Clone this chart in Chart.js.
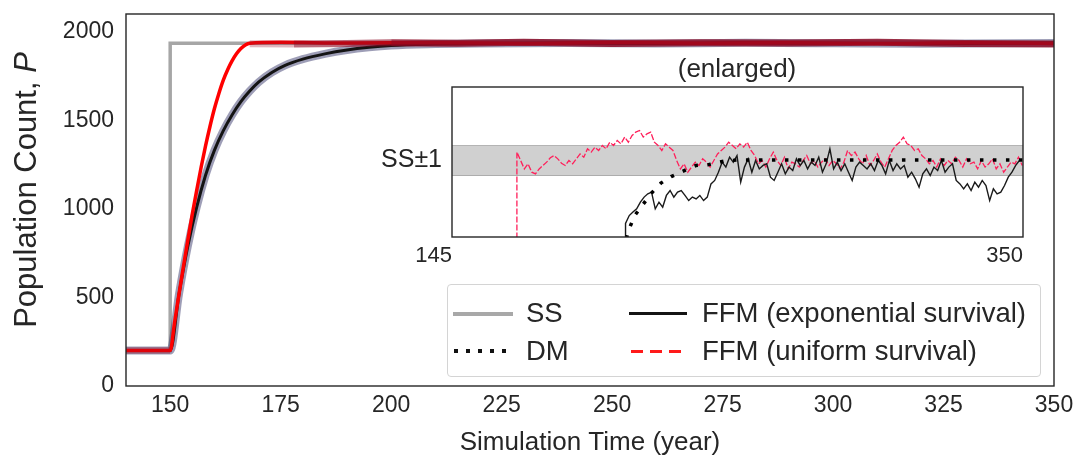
<!DOCTYPE html>
<html>
<head>
<meta charset="utf-8">
<script src="https://cdn.jsdelivr.net/npm/chart.js@4.4.0/dist/chart.umd.min.js"></script>
<style>
  html, body { margin: 0; padding: 0; background: #fff; overflow: hidden; }
  body { width: 1080px; height: 461px; position: relative; font-family: "Liberation Sans", Arial, sans-serif; color: #262626; }
  #main { position: absolute; left: 0; top: 0; }
  #inset { position: absolute; left: 360px; top: 80px; }
  #enlarged { position: absolute; left: 637px; top: 53px; width: 200px; text-align: center; font-size: 26px; line-height: 30px; }
  #legend { position: absolute; left: 447px; top: 284px; width: 592px; height: 91px; border: 1px solid #d4d4d4; border-radius: 4px; background: rgba(255,255,255,0.9); }
  #legend .sw { position: absolute; }
  #legend .lb { position: absolute; font-size: 27.5px; line-height: 30px; white-space: nowrap; }
</style>
</head>
<body>
<canvas id="main" width="1080" height="461"></canvas>
<canvas id="inset" width="680" height="200"></canvas>
<div id="enlarged">(enlarged)</div>
<div id="legend">
  <div class="sw" style="left:5px;top:27px;width:60px;height:4px;background:#a8a8a8"></div>
  <div class="lb" style="left:78px;top:13px">SS</div>
  <div class="sw" style="left:181px;top:27px;width:58px;height:3px;background:#141414"></div>
  <div class="lb" style="left:254px;top:13px">FFM (exponential survival)</div>
  <div class="sw" style="left:6px;top:64px;width:52px;height:4px;background:repeating-linear-gradient(to right,#111 0 4px,transparent 4px 12px)"></div>
  <div class="lb" style="left:78px;top:51px">DM</div>
  <div class="sw" style="left:183px;top:65px;width:52px;height:3px;background:repeating-linear-gradient(to right,#ff1a1a 0 12px,transparent 12px 19px)"></div>
  <div class="lb" style="left:254px;top:51px">FFM (uniform survival)</div>
</div>
<script>
// axis ticks
const xTicks = [150, 175, 200, 225, 250, 275, 300, 325, 350];
const yTicks = [0, 500, 1000, 1500, 2000];

// steady state
const ssYears = [140, 150, 150, 350];
const ssValues = [200, 200, 1935, 1935];

// FFM uniform survival (red)
const uniYears = [140, 150, 151, 152, 153, 154, 155, 156, 157, 158, 159, 160, 161, 162, 163, 164, 165, 166, 167, 168, 175, 190, 210, 230, 250, 270, 290, 310, 330, 350];
const uniValues = [200, 200, 360, 520, 675, 825, 970, 1105, 1235, 1355, 1465, 1565, 1650, 1725, 1785, 1835, 1875, 1905, 1925, 1935, 1940, 1936, 1938, 1934, 1939, 1935, 1937, 1933, 1938, 1934];

// FFM exponential survival (black)
const expYears = [140, 150, 152, 154, 156, 158, 160, 162, 164, 166, 168, 170, 173, 176, 180, 185, 190, 195, 200, 210, 220, 240, 260, 280, 300, 320, 350];
const expValues = [200, 200, 520, 790, 1010, 1190, 1330, 1440, 1530, 1605, 1665, 1715, 1770, 1810, 1845, 1875, 1897, 1912, 1922, 1930, 1934, 1936, 1933, 1937, 1935, 1932, 1936];

// overlapping runs (dark red band)
const runYears = [140, 150, 150, 168, 178, 190, 200, 215, 230, 250, 270, 290, 310, 330, 350];
const runValues = [200, 200, null, 1932, 1930, 1934, 1937, 1935, 1940, 1933, 1938, 1936, 1940, 1934, 1931];

// inset, deviation from SS
const insetStep = 1.334;
const redInStart = 168.3;
const redInValues = [-5.2, 0.56, 0, -0.56, -0.22, -0.78, -0.89, -0.56, -0.33, -0.11, 0.18, 0.33, 0.11, -0.18, -0.33, 0, -0.22, 0.11, 0.44, 0.22, 0.78,
  0.56, 0.89, 0.67, 1.0, 0.78, 1.22, 1.0, 1.33, 1.11, 1.56, 1.22, 1.67, 1.89, 2.0, 1.56, 1.78, 1.89, 1.22, 1.0, 0.67,
  1.11, 0.89, 0.67, 0, -0.56, -0.22, -0.78, -0.44, -0.11, -0.33, 0.11, -0.11, -0.44, 0, 0.44, 0.67, 0.89, 1.22, 1.0, 0.78,
  1.11, 0.89, 1.22, 0.67, 0.33, -0.22, 0, -0.44, 0.11, 0.56, 0, -0.33, 0.22, -0.56, -0.11, -0.22, -0.44, 0, 0.33, -0.22,
  0, -0.44, -0.11, 0.11, -0.33, 0, -0.22, -0.56, -0.11, 0.67, 0.33, 0.56, 0.11, -0.22, 0.33, -0.33, 0, 0.44, -0.11, -0.44,
  0.11, 0.67, 1.0, 1.22, 1.56, 1.11, 1.0, 0.67, 0.78, 0.33, 0.11, -0.22, 0, -0.44, 0.11, -0.33, 0, -0.22, 0.22, 0,
  -0.44, 0.11, -0.22, -0.11, -0.56, 0, -0.44, -0.22, 0.11, -0.56, -0.22, -0.78, -0.44, -0.11, -0.22, 0.22, -0.33];
const expInStart = 207.3;
const expInValues = [-5.2, -4.2, -3.67, -3.44, -3.22, -2.78, -2.44, -2.22, -2.11, -3.22, -2.78, -3.11, -2.33, -2.0, -2.44, -2.11, -2.0, -2.33, -2.67, -2.44,
  -2.56, -2.33, -2.67, -2.44, -1.56, -1.33, -0.78, -0.11, -0.44, 0.22, -0.11, 0.33, -1.44, -0.44, 0.11, -0.78, 0, -0.56, -0.33, -0.22,
  -1.11, -1.33, -0.78, -0.22, -0.89, -0.44, -0.67, 0.11, -0.33, 0, -0.56, -0.11, -0.33, 0.22, -0.78, -0.22, 0.78, -0.56, -0.11, -0.67,
  -0.22, -0.78, -1.33, -0.44, -0.11, -0.33, -0.56, -0.22, -0.67, 0, -0.33, -0.89, 0, -0.67, -0.22, -0.56, -0.33, -1.11, -0.78, -1.22,
  -1.78, -0.89, -0.56, -1.0, -0.44, -0.67, 0, -0.78, -0.44, -0.22, -1.33, -1.56, -1.89, -1.56, -2.0, -1.44, -1.78, -1.33, -1.67, -2.67,
  -1.89, -2.22, -2.11, -1.67, -1.11, -0.78, -0.33, 0];
const dmInYears = [207.6, 208.6, 210.6, 213.3, 216.6, 220.0, 223.7, 228.0, 232.6, 237.3, 242.6, 248.0, 350];
const dmInValues = [-5.2, -4.56, -3.67, -3.0, -2.18, -1.51, -1.07, -0.71, -0.33, -0.27, -0.04, 0.04, 0.04];
const bandYears = [145, 350];
const bandUpper = [1, 1];
const bandLower = [-1, -1];

const ink = '#262626';
const FONT = '"Liberation Sans", Arial, sans-serif';
const pairs = (xs, ys) => xs.map((x, i) => ({ x: x, y: ys[i] }));
const stepped = (start, ys) => ys.map((y, i) => ({ x: start + Math.max(0, i - 1) * insetStep, y: y }));

const framePlugin = {
  id: 'frame',
  beforeDraw(chart) {
    const a = chart.chartArea, ctx = chart.ctx;
    ctx.save();
    ctx.fillStyle = '#fff';
    ctx.fillRect(a.left, a.top, a.right - a.left, a.bottom - a.top);
    ctx.restore();
  },
  afterDraw(chart) {
    const a = chart.chartArea, ctx = chart.ctx;
    ctx.save();
    ctx.strokeStyle = ink;
    ctx.lineWidth = 1.4;
    ctx.strokeRect(a.left, a.top, a.right - a.left, a.bottom - a.top);
    ctx.restore();
  }
};

const yTitlePlugin = {
  id: 'ytitle',
  afterDraw(chart) {
    const a = chart.chartArea, ctx = chart.ctx;
    const f1 = '31px ' + FONT, f2 = 'italic 31px ' + FONT;
    const t1 = 'Population Count, ', t2 = 'P';
    ctx.save();
    ctx.translate(27, (a.top + a.bottom) / 2 - 10);
    ctx.rotate(-Math.PI / 2);
    ctx.fillStyle = ink;
    ctx.textBaseline = 'middle';
    ctx.textAlign = 'left';
    ctx.font = f1; const w1 = ctx.measureText(t1).width;
    ctx.font = f2; const w2 = ctx.measureText(t2).width;
    const x0 = -(w1 + w2) / 2;
    ctx.font = f1; ctx.fillText(t1, x0, 0);
    ctx.font = f2; ctx.fillText(t2, x0 + w1, 0);
    ctx.restore();
  }
};

const line = (data, color, width, extra) => Object.assign({
  data: data, borderColor: color, borderWidth: width, pointRadius: 0, fill: false, tension: 0
}, extra || {});

// keep the plot area exactly where the layout padding puts it
const noPadV = s => { s.paddingTop = 0; s.paddingBottom = 0; };
const noPadH = s => { s.paddingLeft = 0; s.paddingRight = 0; };

new Chart(document.getElementById('main'), {
  type: 'line',
  data: {
    datasets: [
      line(pairs(runYears, runValues), 'rgba(140,8,35,0.82)', 7, {
        spanGaps: false,
        segment: { borderColor: c => c.p0.parsed.x < 178 ? 'rgba(150,10,35,0.3)' : (c.p0.parsed.x < 200 ? 'rgba(140,8,35,0.6)' : undefined) }
      }),
      line(pairs(uniYears, uniValues), '#ff0000', 3.5, { cubicInterpolationMode: 'monotone' }),
      line(pairs(expYears, expValues), '#141414', 3, { cubicInterpolationMode: 'monotone' }),
      line(pairs(expYears, expValues), 'rgba(40,40,95,0.45)', 8, { cubicInterpolationMode: 'monotone' }),
      line(pairs(ssYears, ssValues), '#a6a6a6', 3.5)
    ]
  },
  options: {
    responsive: false,
    animation: false,
    devicePixelRatio: 1,
    layout: { padding: { left: 0, right: 26, top: 14, bottom: 0 } },
    plugins: { legend: { display: false }, tooltip: { enabled: false } },
    scales: {
      x: {
        type: 'linear', min: 140, max: 350,
        afterBuildTicks: s => { s.ticks = xTicks.map(v => ({ value: v })); },
        afterFit: s => { s.height = 75; noPadH(s); },
        grid: { display: false, drawTicks: false },
        border: { display: false },
        ticks: { color: ink, font: { family: FONT, size: 23 }, padding: 6, maxRotation: 0, callback: v => String(v) },
        title: { display: true, text: 'Simulation Time (year)', color: ink, font: { family: FONT, size: 26 }, padding: { top: 0, bottom: 3 } }
      },
      y: {
        type: 'linear', min: 0, max: 2100,
        afterBuildTicks: s => { s.ticks = yTicks.map(v => ({ value: v })); },
        afterFit: s => { s.width = 126; noPadV(s); },
        grid: { display: false, drawTicks: false },
        border: { display: false },
        ticks: { color: ink, font: { family: FONT, size: 23 }, padding: 12, callback: v => String(v) }
      }
    }
  },
  plugins: [framePlugin, yTitlePlugin]
});

new Chart(document.getElementById('inset'), {
  type: 'line',
  data: {
    datasets: [
      line(pairs(dmInYears, dmInValues), '#000', 3.5, { borderDash: [3.5, 9.5], borderCapStyle: 'butt' }),
      line(stepped(expInStart, expInValues), '#1a1a1a', 1.4),
      line(stepped(redInStart, redInValues), '#ff1f5a', 1.3, { borderDash: [6, 2] }),
      line(pairs(bandYears, bandUpper), '#b4b4b4', 1, { fill: '+1', backgroundColor: 'rgba(150,150,150,0.45)' }),
      line(pairs(bandYears, bandLower), '#b4b4b4', 1)
    ]
  },
  options: {
    responsive: false,
    animation: false,
    devicePixelRatio: 1,
    layout: { padding: { left: 0, right: 17, top: 7, bottom: 0 } },
    plugins: { legend: { display: false }, tooltip: { enabled: false } },
    scales: {
      x: {
        type: 'linear', min: 145, max: 350,
        afterBuildTicks: s => { s.ticks = [145, 350].map(v => ({ value: v })); },
        afterFit: s => { s.height = 43; noPadH(s); },
        grid: { display: false, drawTicks: false },
        border: { display: false },
        ticks: { color: ink, font: { family: FONT, size: 22 }, padding: 6, align: 'end', maxRotation: 0, callback: v => String(v) }
      },
      y: {
        type: 'linear', min: -5.1, max: 4.9,
        afterBuildTicks: s => { s.ticks = [{ value: 0 }]; },
        afterFit: s => { s.width = 92; noPadV(s); },
        grid: { display: false, drawTicks: false },
        border: { display: false },
        ticks: { color: ink, font: { family: FONT, size: 25 }, padding: 10, callback: () => 'SS±1' }
      }
    }
  },
  plugins: [framePlugin]
});
</script>
</body>
</html>
